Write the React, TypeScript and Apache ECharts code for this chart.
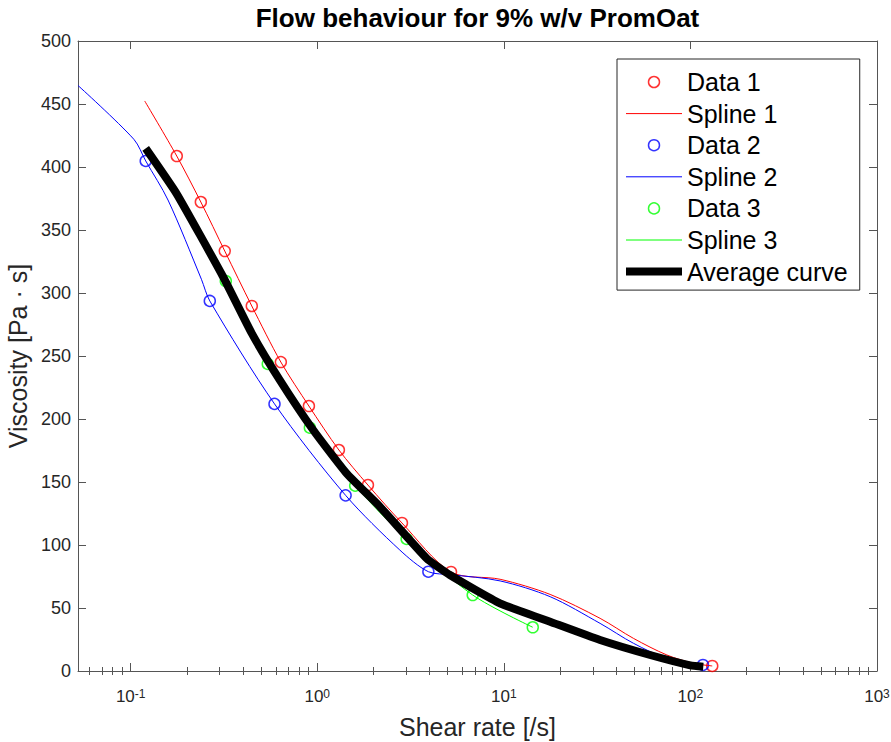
import React, { useEffect, useRef } from 'react';
import * as echarts from 'echarts';

// ---------- data ----------
const X_MIN = 0.0522;
const X_MAX = 1000;

const data1X = [0.1766, 0.2377, 0.3193, 0.4457, 0.638, 0.902, 1.306, 1.869, 2.844, 5.21, 130.9];
const data1Y = [408.7, 372.2, 333.3, 289.7, 245.2, 210.3, 175.4, 147.6, 117.5, 78.6, 4];

const spline1X = [0.1189, 0.1766, 0.2377, 0.3193, 0.4457, 0.638, 0.902, 1.306, 1.869, 2.844, 5.21, 9.55, 17.7, 32.8, 49.5, 74.8, 104, 130.9];
const spline1Y = [452.4, 408.7, 372.2, 333.3, 289.7, 245.2, 210.3, 175.4, 147.6, 117.5, 78.6, 72.8, 60.8, 41.8, 25.9, 12.7, 6.1, 4];

const data2X = [0.1204, 0.2655, 0.59, 1.419, 3.94, 116.7];
const data2Y = [404.8, 293.7, 212, 139.4, 78.8, 4.8];

const spline2X = [0.0522, 0.104, 0.1204, 0.1585, 0.2394, 0.2655, 0.59, 1.419, 2.77, 3.94, 5.2, 9.55, 17.7, 32.8, 49.5, 74.8, 116.7];
const spline2Y = [464.7, 422, 404.8, 373.8, 310.9, 293.7, 212, 139.4, 96, 78.8, 76.5, 71.5, 59, 37.8, 22, 10, 4.8];

const data3X = [0.3234, 0.543, 0.9128, 1.597, 3.013, 6.81, 14.29];
const data3Y = [309.5, 243.7, 193.1, 147.1, 104.8, 60.3, 34.7];

const spline3X = [0.3234, 0.543, 0.9128, 1.597, 3.013, 6.81, 14.29];
const spline3Y = [309.5, 243.7, 193.1, 147.1, 104.8, 60.3, 34.7];

const avgX = [0.1204, 0.1758, 0.3128, 0.4457, 0.63, 0.951, 1.436, 2.167, 3.857, 5.14, 9.54, 17.7, 32.8, 60.8, 99.8, 117.2];
const avgY = [414.8, 379.1, 312.9, 268, 230.9, 191.3, 156.9, 130.4, 89.4, 76.2, 53.7, 39.1, 24.6, 12.7, 4.5, 3.4];

const majorTicks = [0.1, 1, 10, 100, 1000];
const minorTicks = [
  0.06, 0.07, 0.08, 0.09,
  0.2, 0.3, 0.4, 0.5, 0.6, 0.7, 0.8, 0.9,
  2, 3, 4, 5, 6, 7, 8, 9,
  20, 30, 40, 50, 60, 70, 80, 90,
  200, 300, 400, 500, 600, 700, 800, 900,
];
const yTicks = { min: 0, max: 500, interval: 50 };

const TITLE = 'Flow behaviour for 9% w/v PromOat';
const X_NAME = 'Shear rate [/s]';
const Y_NAME = 'Viscosity [Pa · s]';

// ---------- styling ----------
const FONT = "'Liberation Sans', Arial, Helvetica, sans-serif";
const TXT = '#262626';
const AXL = '#555555';
const RED = '#ff0000';
const BLUE = '#0000ff';
const GREEN = '#00ff00';

function pairs(xs: number[], ys: number[]) {
  return xs.map((x, i) => [x, ys[i]]);
}

function expOf(v: number) {
  return Math.round(Math.log10(v));
}

export default function App() {
  const ref = useRef<HTMLDivElement>(null);

  useEffect(() => {
    if (!ref.current) return;
    const chart = echarts.init(ref.current, null, { renderer: 'svg' });

    const logBase = {
      type: 'log',
      logBase: 10,
      min: X_MIN,
      max: X_MAX,
      splitLine: { show: false },
      minorTick: { show: false },
      minorSplitLine: { show: false },
    };

    const scatter = (name: string, xs: number[], ys: number[], color: string) => ({
      name,
      type: 'scatter',
      xAxisIndex: 0,
      yAxisIndex: 0,
      data: pairs(xs, ys),
      symbol: 'circle',
      symbolSize: 11,
      itemStyle: { color: 'rgba(0,0,0,0)', borderColor: color, borderWidth: 1.5 },
      emphasis: { disabled: true },
    });

    const line = (name: string, xs: number[], ys: number[], color: string, width: number, smooth: number | boolean) => ({
      name,
      type: 'line',
      xAxisIndex: 0,
      yAxisIndex: 0,
      data: pairs(xs, ys),
      symbol: 'none',
      showSymbol: false,
      smooth,
      lineStyle: { color, width },
      itemStyle: { color },
      emphasis: { disabled: true },
    });

    const hiddenDot = { color: 'rgba(0,0,0,0)', borderWidth: 0, opacity: 0 };

    chart.setOption({
      animation: false,
      backgroundColor: '#ffffff',
      textStyle: { fontFamily: FONT },
      grid: { left: 78, right: 14, top: 41, bottom: 71, containLabel: false, outerBoundsMode: 'none' },
      legend: {
        orient: 'vertical',
        left: 617,
        top: 59,
        itemWidth: 56,
        itemHeight: 11,
        itemGap: 6.6,
        padding: [10.5, 12, 6, 5],
        borderColor: '#262626',
        borderWidth: 1,
        backgroundColor: '#ffffff',
        selectedMode: false,
        textStyle: { fontSize: 25, color: '#000000', fontFamily: FONT, lineHeight: 25 },
        data: [
          { name: 'Data 1', icon: 'circle', itemStyle: { color: 'rgba(0,0,0,0)', borderColor: RED, borderWidth: 1.5 } },
          { name: 'Spline 1', itemStyle: hiddenDot, lineStyle: { color: RED, width: 1 } },
          { name: 'Data 2', icon: 'circle', itemStyle: { color: 'rgba(0,0,0,0)', borderColor: BLUE, borderWidth: 1.5 } },
          { name: 'Spline 2', itemStyle: hiddenDot, lineStyle: { color: BLUE, width: 1 } },
          { name: 'Data 3', icon: 'circle', itemStyle: { color: 'rgba(0,0,0,0)', borderColor: GREEN, borderWidth: 1.5 } },
          { name: 'Spline 3', itemStyle: hiddenDot, lineStyle: { color: GREEN, width: 1 } },
          { name: 'Average curve', itemStyle: hiddenDot, lineStyle: { color: '#000000', width: 8 } },
        ],
      },
      xAxis: [
        {
          ...logBase,
          position: 'bottom',
          axisLine: { show: true, onZero: false, lineStyle: { color: AXL, width: 1 } },
          axisTick: { show: true, inside: true, length: 8, customValues: majorTicks, lineStyle: { color: AXL, width: 1 } },
          axisLabel: {
            show: true,
            customValues: majorTicks,
            margin: 17,
            formatter: (v: number) => `{b|10}{s|${expOf(v)}}`,
            rich: {
              b: { fontSize: 17, lineHeight: 17, color: TXT, fontFamily: FONT, verticalAlign: 'bottom' },
              s: { fontSize: 12, lineHeight: 12, color: TXT, fontFamily: FONT, verticalAlign: 'top', padding: [0, 0, 10, 0] },
            },
          },
          name: X_NAME,
          nameLocation: 'middle',
          nameGap: 43,
          nameTextStyle: { fontSize: 25, color: TXT, fontFamily: FONT },
        },
        {
          ...logBase,
          position: 'bottom',
          offset: 0,
          axisLine: { show: false },
          axisTick: { show: true, inside: true, length: 4, customValues: minorTicks, lineStyle: { color: AXL, width: 1 } },
          axisLabel: { show: false },
        },
        {
          ...logBase,
          position: 'top',
          axisLine: { show: true, onZero: false, lineStyle: { color: AXL, width: 1 } },
          axisTick: { show: true, inside: true, length: 8, customValues: majorTicks, lineStyle: { color: AXL, width: 1 } },
          axisLabel: { show: false },
          name: TITLE,
          nameLocation: 'middle',
          nameGap: 10,
          nameTextStyle: { fontSize: 26, fontWeight: 'bold', color: '#000000', fontFamily: FONT },
        },
        {
          ...logBase,
          position: 'top',
          offset: 0,
          axisLine: { show: false },
          axisTick: { show: true, inside: true, length: 4, customValues: minorTicks, lineStyle: { color: AXL, width: 1 } },
          axisLabel: { show: false },
        },
      ],
      yAxis: [
        {
          type: 'value',
          position: 'left',
          min: yTicks.min,
          max: yTicks.max,
          interval: yTicks.interval,
          splitLine: { show: false },
          axisLine: { show: true, onZero: false, lineStyle: { color: AXL, width: 1 } },
          axisTick: { show: true, inside: true, length: 8, lineStyle: { color: AXL, width: 1 } },
          axisLabel: { fontSize: 18, color: TXT, margin: 7, fontFamily: FONT },
          name: Y_NAME,
          nameLocation: 'middle',
          nameGap: 47,
          nameTextStyle: { fontSize: 25, color: TXT, fontFamily: FONT },
        },
        {
          type: 'value',
          position: 'right',
          min: yTicks.min,
          max: yTicks.max,
          interval: yTicks.interval,
          splitLine: { show: false },
          axisLine: { show: true, onZero: false, lineStyle: { color: AXL, width: 1 } },
          axisTick: { show: true, inside: true, length: 8, lineStyle: { color: AXL, width: 1 } },
          axisLabel: { show: false },
        },
      ],
      series: [
        scatter('Data 1', data1X, data1Y, RED),
        line('Spline 1', spline1X, spline1Y, RED, 1, 0.3),
        scatter('Data 2', data2X, data2Y, BLUE),
        line('Spline 2', spline2X, spline2Y, BLUE, 1, 0.3),
        scatter('Data 3', data3X, data3Y, GREEN),
        line('Spline 3', spline3X, spline3Y, GREEN, 1, 0.3),
        line('Average curve', avgX, avgY, '#000000', 8, 0.15),
      ],
    });

    return () => chart.dispose();
  }, []);

  return (
    <div
      ref={ref}
      style={{ position: 'absolute', left: 0, top: 0, width: 891, height: 742, background: '#ffffff' }}
    />
  );
}
